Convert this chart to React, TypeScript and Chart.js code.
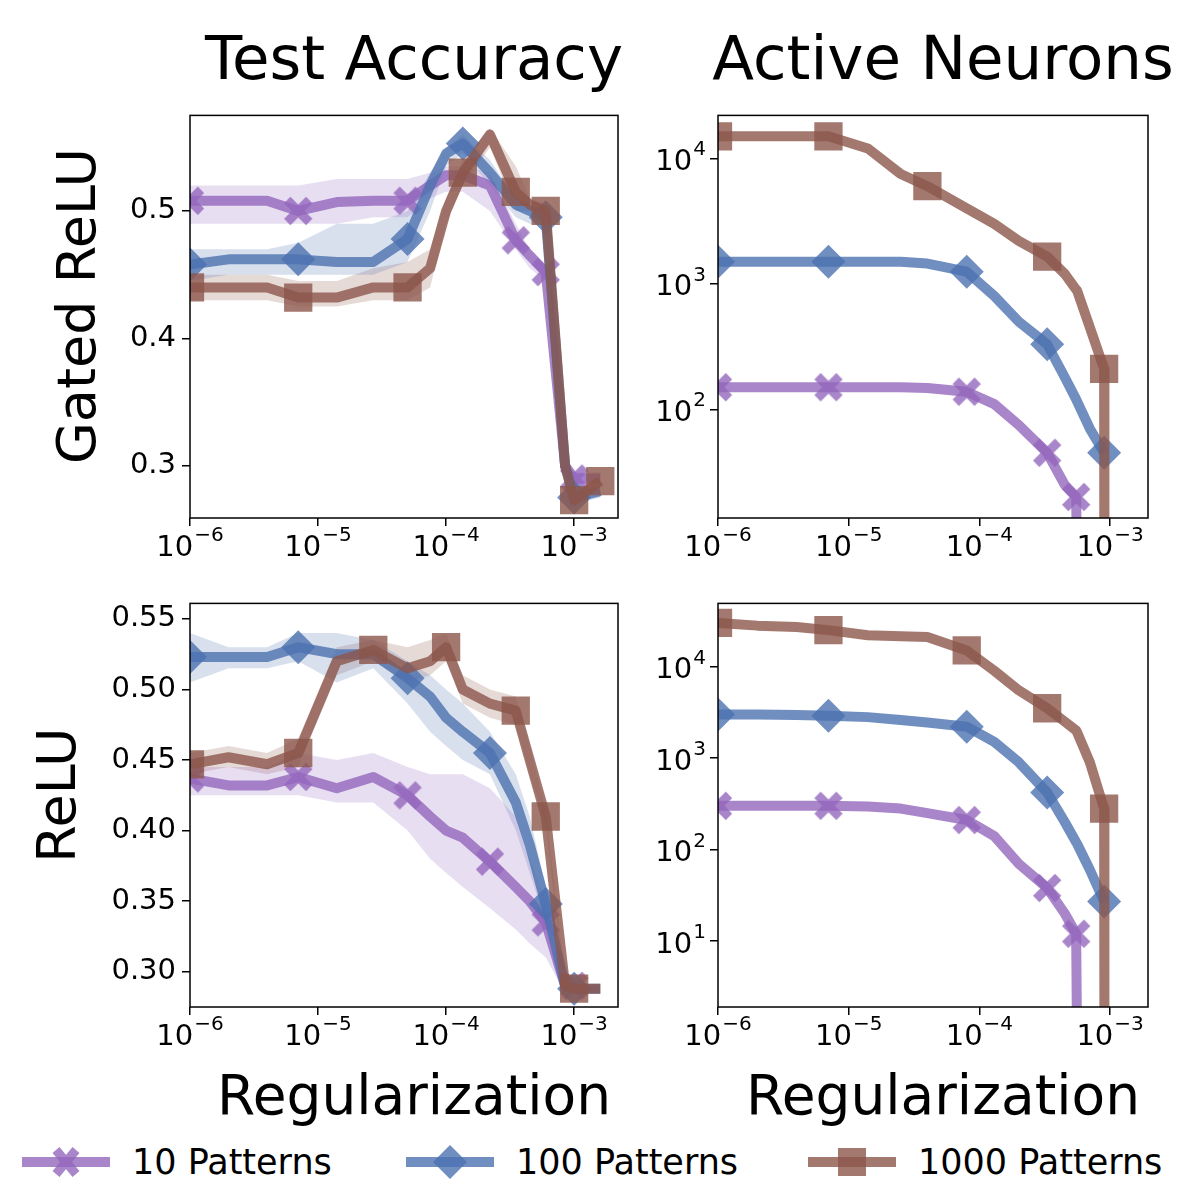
import { useEffect, useRef } from "react";
import { Chart, registerables } from "chart.js";
Chart.register(...registerables);

const PURPLE = "rgba(148,103,189,0.8)";
const BLUE = "rgba(76,114,176,0.8)";
const BROWN = "rgba(140,86,75,0.8)";
const PURPLE_BAND = "rgba(148,103,189,0.22)";
const BLUE_BAND = "rgba(76,114,176,0.22)";
const BROWN_BAND = "rgba(140,86,75,0.22)";

// shared x grid for the accuracy panels
const xLeft = [1e-6, 2e-6, 4e-6, 7e-6, 1.4e-5, 2.7e-5, 5e-5, 7.5e-5, 1e-4, 1.35e-4, 2.2e-4, 3.5e-4, 4.5e-4, 6e-4, 8.5e-4, 1e-3, 1.6e-3];
// shared x grid for the neuron-count panels
const xRight = [1e-6, 2e-6, 4e-6, 7e-6, 1.4e-5, 2.5e-5, 4e-5, 8e-5, 1.3e-4, 2e-4, 3.3e-4, 4.5e-4, 5.5e-4, 5.6e-4, 7e-4, 9e-4, 9.05e-4];

// Gated ReLU - test accuracy
const gAcc10 = [0.508, 0.508, 0.508, 0.5, 0.507, 0.508, 0.508, 0.52, 0.528, 0.528, 0.52, 0.477, 0.465, 0.452, 0.3, 0.29, 0.29];
const gAcc10Hi = [0.52, 0.52, 0.52, 0.52, 0.525, 0.525, 0.525, 0.53, 0.535, 0.535, 0.53, 0.49, 0.47, 0.455, 0.3, 0.295, 0.295];
const gAcc10Lo = [0.49, 0.49, 0.49, 0.49, 0.49, 0.495, 0.495, 0.51, 0.515, 0.515, 0.5, 0.47, 0.455, 0.445, 0.29, 0.285, 0.285];
const gAcc100 = [0.458, 0.462, 0.462, 0.462, 0.46, 0.46, 0.478, 0.52, 0.545, 0.553, 0.53, 0.505, 0.5, 0.495, 0.3, 0.275, 0.28];
const gAcc100Hi = [0.47, 0.47, 0.47, 0.475, 0.49, 0.49, 0.5, 0.53, 0.55, 0.56, 0.54, 0.51, 0.505, 0.5, 0.3, 0.28, 0.285];
const gAcc100Lo = [0.445, 0.45, 0.45, 0.45, 0.45, 0.45, 0.46, 0.5, 0.535, 0.545, 0.52, 0.495, 0.49, 0.49, 0.29, 0.27, 0.275];
const gAcc1000 = [0.44, 0.44, 0.44, 0.432, 0.432, 0.44, 0.44, 0.455, 0.5, 0.53, 0.56, 0.515, 0.505, 0.5, 0.3, 0.273, 0.288];
const gAcc1000Hi = [0.45, 0.45, 0.45, 0.445, 0.445, 0.455, 0.46, 0.47, 0.51, 0.54, 0.565, 0.535, 0.51, 0.505, 0.3, 0.278, 0.292];
const gAcc1000Lo = [0.43, 0.43, 0.43, 0.425, 0.425, 0.43, 0.43, 0.44, 0.49, 0.52, 0.55, 0.5, 0.5, 0.495, 0.29, 0.268, 0.284];

// ReLU - test accuracy
const rAcc10 = [0.437, 0.432, 0.432, 0.438, 0.43, 0.438, 0.425, 0.41, 0.4, 0.395, 0.378, 0.36, 0.35, 0.335, 0.29, 0.29, null];
const rAcc10Hi = [0.445, 0.445, 0.445, 0.455, 0.45, 0.455, 0.445, 0.44, 0.44, 0.44, 0.43, 0.41, 0.38, 0.35, 0.3, 0.295, null];
const rAcc10Lo = [0.425, 0.425, 0.425, 0.425, 0.42, 0.42, 0.4, 0.38, 0.37, 0.36, 0.345, 0.33, 0.32, 0.31, 0.285, 0.285, null];
const rAcc100 = [0.523, 0.523, 0.523, 0.53, 0.525, 0.525, 0.508, 0.495, 0.48, 0.47, 0.455, 0.42, 0.39, 0.348, 0.29, 0.288, 0.288];
const rAcc100Hi = [0.54, 0.53, 0.53, 0.54, 0.54, 0.535, 0.52, 0.51, 0.5, 0.49, 0.47, 0.44, 0.41, 0.36, 0.295, 0.29, 0.29];
const rAcc100Lo = [0.505, 0.515, 0.515, 0.52, 0.505, 0.515, 0.49, 0.47, 0.46, 0.45, 0.44, 0.4, 0.37, 0.335, 0.285, 0.285, 0.285];
const rAcc1000 = [0.447, 0.452, 0.447, 0.455, 0.52, 0.528, 0.515, 0.52, 0.53, 0.5, 0.49, 0.485, 0.45, 0.41, 0.29, 0.288, 0.288];
const rAcc1000Hi = [0.455, 0.46, 0.455, 0.465, 0.53, 0.535, 0.53, 0.535, 0.54, 0.51, 0.5, 0.495, 0.46, 0.415, 0.295, 0.29, 0.29];
const rAcc1000Lo = [0.44, 0.445, 0.44, 0.445, 0.51, 0.52, 0.505, 0.51, 0.52, 0.49, 0.48, 0.475, 0.44, 0.405, 0.285, 0.286, 0.286];

// Gated ReLU - active neurons
const gAct10 = [150, 150, 150, 150, 150, 150, 148, 138, 110, 75, 45, 25, 20, 5, null, null, null];
const gAct100 = [1500, 1500, 1500, 1500, 1500, 1500, 1450, 1250, 800, 500, 330, 180, 120, 115, 70, 45, null];
const gAct1000 = [15000, 15000, 15000, 15000, 12000, 7500, 6000, 4000, 3000, 2200, 1650, 1200, 900, 880, 450, 210, 1];

// ReLU - active neurons
const rAct10 = [300, 300, 300, 300, 295, 280, 250, 210, 140, 70, 38, 20, 12, 0.5, null, null, null];
const rAct100 = [3000, 3000, 2950, 2900, 2800, 2600, 2450, 2200, 1500, 900, 420, 200, 120, 115, 60, 27, null];
const rAct1000 = [30000, 28000, 27000, 25000, 22000, 21500, 21000, 15000, 9000, 5500, 3500, 2500, 2000, 1900, 900, 280, 0.5];

// which points carry a marker
const gAcc10Marks = [0, 3, 6, 11, 13, 15];
const gAcc100Marks = [0, 3, 6, 9, 13, 15];
const gAcc1000Marks = [0, 3, 6, 9, 11, 13, 15, 16];
const rAcc10Marks = [0, 3, 6, 10, 13, 15];
const rAcc100Marks = [0, 3, 6, 10, 13, 15];
const rAcc1000Marks = [0, 3, 5, 8, 11, 13, 15];
const gAct10Marks = [0, 3, 7, 10, 12];
const gAct100Marks = [0, 3, 7, 10, 15];
const gAct1000Marks = [0, 3, 6, 10, 15];
const rAct10Marks = [0, 3, 7, 10, 12];
const rAct100Marks = [0, 3, 7, 10, 15];
const rAct1000Marks = [0, 3, 7, 10, 15];

const xTicks = [1e-6, 1e-5, 1e-4, 1e-3];

const FONT = "'DejaVu Sans', sans-serif";
const TICK = 29;

function makeX(color: string) {
  const c = document.createElement("canvas");
  c.width = 32;
  c.height = 32;
  const ctx = c.getContext("2d")!;
  ctx.strokeStyle = color;
  ctx.lineWidth = 9;
  ctx.beginPath();
  ctx.moveTo(5, 5);
  ctx.lineTo(27, 27);
  ctx.moveTo(27, 5);
  ctx.lineTo(5, 27);
  ctx.stroke();
  return c;
}

// draws "10" with a raised exponent, anchored by its right edge or centre
function drawPow(ctx: CanvasRenderingContext2D, v: number, x: number, y: number, align: "center" | "right") {
  const e = String(Math.round(Math.log10(v))).replace("-", "−");
  ctx.font = `${TICK}px ${FONT}`;
  const wb = ctx.measureText("10").width;
  ctx.font = `${Math.round(TICK * 0.7)}px ${FONT}`;
  const we = ctx.measureText(e).width;
  const w = wb + we + 1;
  const x0 = align === "center" ? x - w / 2 : x - w;
  ctx.fillStyle = "#000";
  ctx.textAlign = "left";
  ctx.textBaseline = "middle";
  ctx.font = `${TICK}px ${FONT}`;
  ctx.fillText("10", x0, y);
  ctx.font = `${Math.round(TICK * 0.7)}px ${FONT}`;
  ctx.fillText(e, x0 + wb + 1, y - TICK * 0.42);
}

const frame = {
  id: "frame",
  afterDraw(chart: any) {
    const { ctx, chartArea: a } = chart;
    ctx.save();
    ctx.strokeStyle = "#000";
    ctx.lineWidth = 1.5;
    ctx.strokeRect(a.left, a.top, a.right - a.left, a.bottom - a.top);
    const xs = chart.scales.x;
    xTicks.forEach((v) => drawPow(ctx, v, xs.getPixelForValue(v), a.bottom + 30, "center"));
    const ys = chart.scales.y;
    if (ys.type === "logarithmic") {
      ys.ticks.forEach((t: any) => drawPow(ctx, t.value, a.left - 12, ys.getPixelForValue(t.value) + 4, "right"));
    }
    ctx.restore();
  },
};

type Series = { y: (number | null)[]; marks: number[]; kind: number; hi?: number[]; lo?: number[] };

const colors = [PURPLE, BLUE, BROWN];
const bands = [PURPLE_BAND, BLUE_BAND, BROWN_BAND];

const Panel = ({ xs, series, log, yMin, yMax, yTicks, yFmt, left, top, height }: {
  xs: number[]; series: Series[]; log: boolean; yMin: number; yMax: number; yTicks: number[];
  yFmt: (v: number) => string; left: number; top: number; height: number;
}) => {
  const ref = useRef<HTMLCanvasElement | null>(null);
  useEffect(() => {
    if (!ref.current) return;
    const xMarker = makeX(PURPLE);
    const datasets: any[] = [];
    series.forEach((s) => {
      if (s.hi && s.lo) {
        datasets.push({
          data: xs.map((x, i) => ({ x, y: s.hi![i] })), borderWidth: 0, pointRadius: 0,
          backgroundColor: bands[s.kind], fill: "+1", order: 10,
        });
        datasets.push({
          data: xs.map((x, i) => ({ x, y: s.lo![i] })), borderWidth: 0, pointRadius: 0,
          fill: false, order: 10,
        });
      }
    });
    series.forEach((s) => {
      const c = colors[s.kind];
      datasets.push({
        data: xs.map((x, i) => ({ x, y: s.y[i] })),
        borderColor: c,
        backgroundColor: c,
        borderWidth: 10,
        borderJoinStyle: "round",
        tension: 0,
        spanGaps: false,
        fill: false,
        order: 3 - s.kind,
        pointStyle: s.kind === 0 ? xMarker : s.kind === 1 ? "rectRot" : "rect",
        pointRadius: xs.map((_, i) => (s.marks.includes(i) ? (s.kind === 0 ? 15 : s.kind === 1 ? 17 : 20) : 0)),
        pointBorderWidth: 0,
      });
    });
    const chart = new Chart(ref.current, {
      type: "line",
      data: { datasets },
      plugins: [frame],
      options: {
        animation: false,
        responsive: false,
        layout: { padding: { top: 0, right: 0, bottom: 0, left: 0 } },
        plugins: { legend: { display: false }, tooltip: { enabled: false } },
        scales: {
          x: {
            type: "logarithmic",
            min: 1e-6,
            max: left < 400 ? 2.2e-3 : 1.95e-3,
            afterBuildTicks: (sc: any) => { sc.ticks = xTicks.map((v) => ({ value: v })); },
            afterFit: (sc: any) => { sc.height = 52; },
            ticks: { callback: () => "", padding: 4, maxRotation: 0, autoSkip: false },
            grid: { drawOnChartArea: false, drawTicks: true, tickLength: 8, color: "#000", lineWidth: 1.5 },
            border: { display: false },
          },
          y: {
            type: log ? "logarithmic" : "linear",
            min: yMin,
            max: yMax,
            afterBuildTicks: (sc: any) => { sc.ticks = yTicks.map((v) => ({ value: v })); },
            afterFit: (sc: any) => { sc.width = 100; },
            ticks: { callback: (v: any) => (log ? "" : yFmt(Number(v))), color: "#000", font: { size: TICK, family: FONT }, padding: 6, autoSkip: false },
            grid: { drawOnChartArea: false, drawTicks: true, tickLength: 8, color: "#000", lineWidth: 1.5 },
            border: { display: false },
          },
        },
      } as any,
    });
    return () => chart.destroy();
  }, []);
  const w = left < 400 ? 548 : 550;
  return <canvas ref={ref} width={w} height={height} style={{ position: "absolute", left, top, width: w, height }} />;
};

const text = (s: string, x: number, y: number, size: number, rotate = false) => (
  <div style={{
    position: "absolute", left: x, top: y, fontFamily: FONT, fontSize: size, color: "#000", whiteSpace: "nowrap",
    transform: rotate ? "translate(-50%,-50%) rotate(-90deg)" : "translate(-50%,-50%)",
  }}>{s}</div>
);

const LegendItem = ({ x, kind, label }: { x: number; kind: number; label: string }) => {
  const c = colors[kind];
  return (
    <div style={{ position: "absolute", left: x, top: 1140, height: 44, display: "flex", alignItems: "center" }}>
      <svg width={96} height={44}>
        <line x1={4} y1={22} x2={92} y2={22} stroke={c} strokeWidth={10} />
        {kind === 0 && <path d="M38 10 L58 34 M58 10 L38 34" stroke={c} strokeWidth={9} />}
        {kind === 1 && <polygon points="48,5 65,22 48,39 31,22" fill={c} />}
        {kind === 2 && <rect x={34} y={8} width={28} height={28} fill={c} />}
      </svg>
      <span style={{ fontFamily: FONT, fontSize: 35, marginLeft: 18 }}>{label}</span>
    </div>
  );
};

const fmt1 = (v: number) => v.toFixed(1);
const fmt2 = (v: number) => v.toFixed(2);

export default function App() {
  return (
    <div style={{ position: "absolute", left: 0, top: 0, width: 1200, height: 1200, background: "#fff", overflow: "hidden" }}>
      {text("Test Accuracy", 414, 57, 61)}
      {text("Active Neurons", 943, 57, 61)}
      {text("Gated ReLU", 76, 306, 54, true)}
      {text("ReLU", 56, 795, 54, true)}
      {text("Regularization", 414, 1095, 55)}
      {text("Regularization", 943, 1095, 55)}
      <Panel xs={xLeft} log={false} yMin={0.259} yMax={0.575} yTicks={[0.3, 0.4, 0.5]} yFmt={fmt1} left={90} top={92} height={478}
        series={[
          { y: gAcc10, hi: gAcc10Hi, lo: gAcc10Lo, marks: gAcc10Marks, kind: 0 },
          { y: gAcc100, hi: gAcc100Hi, lo: gAcc100Lo, marks: gAcc100Marks, kind: 1 },
          { y: gAcc1000, hi: gAcc1000Hi, lo: gAcc1000Lo, marks: gAcc1000Marks, kind: 2 },
        ]} />
      <Panel xs={xRight} log={true} yMin={13.6} yMax={22000} yTicks={[100, 1000, 10000]} yFmt={fmt1} left={618} top={92} height={478}
        series={[
          { y: gAct10, marks: gAct10Marks, kind: 0 },
          { y: gAct100, marks: gAct100Marks, kind: 1 },
          { y: gAct1000, marks: gAct1000Marks, kind: 2 },
        ]} />
      <Panel xs={xLeft} log={false} yMin={0.275} yMax={0.561} yTicks={[0.3, 0.35, 0.4, 0.45, 0.5, 0.55]} yFmt={fmt2} left={90} top={580} height={479}
        series={[
          { y: rAcc10, hi: rAcc10Hi, lo: rAcc10Lo, marks: rAcc10Marks, kind: 0 },
          { y: rAcc100, hi: rAcc100Hi, lo: rAcc100Lo, marks: rAcc100Marks, kind: 1 },
          { y: rAcc1000, hi: rAcc1000Hi, lo: rAcc1000Lo, marks: rAcc1000Marks, kind: 2 },
        ]} />
      <Panel xs={xRight} log={true} yMin={1.9} yMax={49000} yTicks={[10, 100, 1000, 10000]} yFmt={fmt1} left={618} top={580} height={479}
        series={[
          { y: rAct10, marks: rAct10Marks, kind: 0 },
          { y: rAct100, marks: rAct100Marks, kind: 1 },
          { y: rAct1000, marks: rAct1000Marks, kind: 2 },
        ]} />
      <LegendItem x={18} kind={0} label="10 Patterns" />
      <LegendItem x={402} kind={1} label="100 Patterns" />
      <LegendItem x={804} kind={2} label="1000 Patterns" />
    </div>
  );
}
